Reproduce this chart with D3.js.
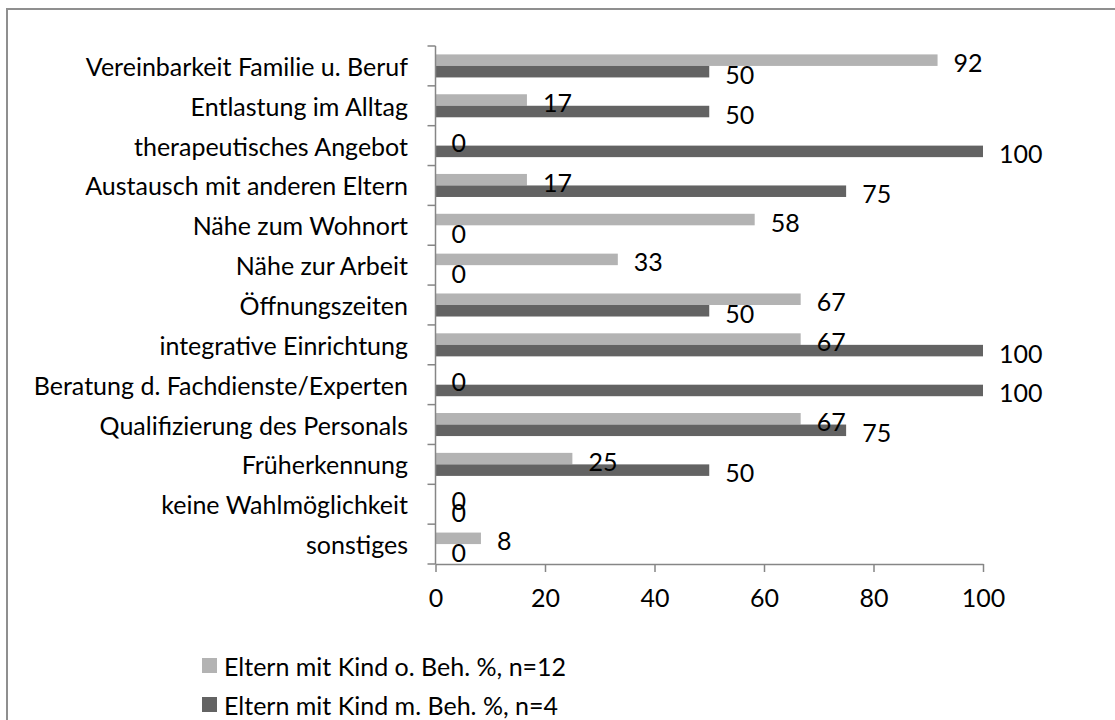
<!DOCTYPE html>
<html>
<head>
<meta charset="utf-8">
<script src="https://cdn.jsdelivr.net/npm/d3@7"></script>
<style>
  html, body { margin: 0; padding: 0; background: #fff; }
  svg { display: block; }
  text { font-family: Lato, "Open Sans", sans-serif; fill: #000; }
</style>
</head>
<body>
<svg id="chart" width="1115" height="720"></svg>
<script>
const categories = [
  "Vereinbarkeit Familie u. Beruf",
  "Entlastung im Alltag",
  "therapeutisches Angebot",
  "Austausch mit anderen Eltern",
  "Nähe zum Wohnort",
  "Nähe zur Arbeit",
  "Öffnungszeiten",
  "integrative Einrichtung",
  "Beratung d. Fachdienste/Experten",
  "Qualifizierung des Personals",
  "Früherkennung",
  "keine Wahlmöglichkeit",
  "sonstiges"
];
const seriesNames = ["Eltern mit Kind o. Beh. %, n=12", "Eltern mit Kind m. Beh. %, n=4"];
const valuesOhne = [91.7, 16.7, 0, 16.7, 58.3, 33.3, 66.7, 66.7, 0, 66.7, 25, 0, 8.3];
const valuesMit  = [50, 50, 100, 75, 0, 0, 50, 100, 100, 75, 50, 0, 0];
const xTicks = [0, 20, 40, 60, 80, 100];
const colors = ["#b3b3b3", "#636363"];

const FS = 25;
const svg = d3.select("#chart");

// outer frame
svg.append("rect").attr("x", 7).attr("y", 9).attr("width", 1200).attr("height", 800)
  .attr("fill", "none").attr("stroke", "#8f8f8f").attr("stroke-width", 2);

const x = d3.scaleLinear().domain([0, 100]).range([435.5, 983]);
const y = d3.scaleBand().domain(categories).range([46, 564]).padding(0);
const sub = d3.scaleBand().domain([0, 1]).range([0, y.bandwidth()]).paddingInner(0).paddingOuter(0.73);

const data = categories.map((c, i) => ({ c, vals: [valuesOhne[i], valuesMit[i]] }));

// bars
const g = svg.append("g");
data.forEach(d => {
  d.vals.forEach((v, s) => {
    g.append("rect")
      .attr("x", x(0))
      .attr("y", y(d.c) + sub(s))
      .attr("width", x(v) - x(0))
      .attr("height", sub.bandwidth())
      .attr("fill", colors[s]);
  });
});

// y axis line and ticks (between categories)
const axisColor = "#868686";
svg.append("line").attr("x1", x(0)).attr("x2", x(0)).attr("y1", y.range()[0]).attr("y2", y.range()[1])
  .attr("stroke", axisColor).attr("stroke-width", 1.5);
const bounds = categories.map(c => y(c)).concat([y.range()[1]]);
svg.selectAll(".ytick").data(bounds).enter().append("line")
  .attr("x1", x(0) - 8).attr("x2", x(0)).attr("y1", d => d).attr("y2", d => d)
  .attr("stroke", axisColor).attr("stroke-width", 1.5);

// category labels
svg.selectAll(".cat").data(categories).enter().append("text")
  .attr("x", 408).attr("y", d => y(d) + y.bandwidth() / 2)
  .attr("text-anchor", "end").attr("dominant-baseline", "central")
  .style("font-size", FS + "px").text(d => d);

// x axis
const xAxis = svg.append("g").attr("transform", `translate(0,564)`)
  .call(d3.axisBottom(x).tickValues(xTicks).tickSize(8).tickPadding(17).tickSizeOuter(0));
xAxis.select(".domain").attr("stroke", axisColor).attr("stroke-width", 1.5);
xAxis.selectAll(".tick line").attr("stroke", axisColor).attr("stroke-width", 1.5);
xAxis.selectAll(".tick text").style("font-size", FS + "px").style("font-family", "Lato, sans-serif").attr("fill", "#000");

// value labels
const fmt = d3.format(".0f");
data.forEach(d => {
  d.vals.forEach((v, s) => {
    svg.append("text")
      .attr("x", x(v) + 16)
      .attr("y", y(d.c) + sub(s) + sub.bandwidth() / 2 + 2)
      .attr("dominant-baseline", "central")
      .style("font-size", FS + "px")
      .text(fmt(v));
  });
});

// legend
const lg = svg.append("g");
seriesNames.forEach((n, i) => {
  const cy = 665.5 + i * 39;
  lg.append("rect").attr("x", 202).attr("y", cy - 7.5).attr("width", 15).attr("height", 15).attr("fill", colors[i]);
  lg.append("text").attr("x", 224).attr("y", cy).attr("dominant-baseline", "central")
    .style("font-size", FS + "px").text(n);
});
</script>
</body>
</html>
